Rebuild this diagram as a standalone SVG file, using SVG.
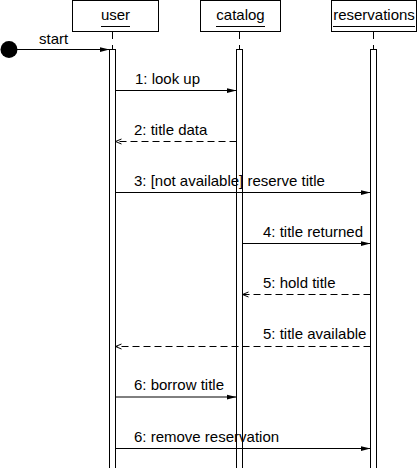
<svg xmlns="http://www.w3.org/2000/svg" width="417" height="468" viewBox="0 0 417 468">
<style>
text{font-family:"Liberation Sans",Arial,sans-serif;font-size:15px;fill:#000}
.box{fill:#fff;stroke:#000;stroke-width:1}
.bar{fill:#fff;stroke:#000;stroke-width:1}
.life{stroke:#000;stroke-width:1;stroke-dasharray:7,6}
.ul{stroke:#000;stroke-width:1}
.call{stroke:#000;stroke-width:1;fill:none;marker-end:url(#filled)}
.ret{stroke:#000;stroke-width:1;fill:none;stroke-dasharray:7,4;marker-end:url(#open)}
</style>
<defs>
<marker id="filled" markerUnits="userSpaceOnUse" markerWidth="12" markerHeight="8" refX="10" refY="3" orient="auto">
<path d="M0,0.5 L10,3 L0,5.5 z" fill="#000"/>
</marker>
<marker id="open" markerUnits="userSpaceOnUse" markerWidth="10" markerHeight="8" refX="7" refY="4" orient="auto">
<path d="M1,1.5 L7,4 L1,6.5" fill="none" stroke="#000" stroke-width="1"/>
</marker>
</defs>
<g id="user">
<rect class="box" x="72.5" y="0.5" width="86" height="31"/>
<text x="115.5" y="20" text-anchor="middle">user</text>
<line class="ul" x1="101" y1="26.5" x2="130" y2="26.5"/>
<line class="life" x1="112.5" y1="32" x2="112.5" y2="49"/>
<rect class="bar" x="109.5" y="49.5" width="6" height="420"/>
</g>
<g id="catalog">
<rect class="box" x="200.5" y="0.5" width="80" height="31"/>
<text x="240.5" y="20" text-anchor="middle">catalog</text>
<line class="ul" x1="216" y1="26.5" x2="265" y2="26.5"/>
<line class="life" x1="239.5" y1="32" x2="239.5" y2="49"/>
<rect class="bar" x="236.5" y="49.5" width="6" height="420"/>
</g>
<g id="reservations">
<rect class="box" x="331.5" y="0.5" width="85" height="31"/>
<text x="374" y="20" text-anchor="middle">reservations</text>
<line class="ul" x1="333" y1="26.5" x2="415" y2="26.5"/>
<line class="life" x1="373.5" y1="32" x2="373.5" y2="49"/>
<rect class="bar" x="370.5" y="49.5" width="6" height="420"/>
</g>
<g id="start">
<circle cx="9" cy="49.5" r="8.5" fill="#000"/>
</g>
<g id="connectors">
<line class="call" x1="17" y1="49.5" x2="109.5" y2="49.5"/>
<text x="39" y="44">start</text>
<line class="call" x1="115.5" y1="90.5" x2="236.5" y2="90.5"/>
<text x="135" y="84">1: look up</text>
<line class="ret" x1="236.5" y1="141.5" x2="115.5" y2="141.5"/>
<text x="134" y="135">2: title data</text>
<line class="call" x1="115.5" y1="192.5" x2="370.5" y2="192.5"/>
<text x="134" y="186">3: [not available] reserve title</text>
<line class="call" x1="242.5" y1="243.5" x2="370.5" y2="243.5"/>
<text x="263" y="237">4: title returned</text>
<line class="ret" x1="370.5" y1="294.5" x2="242.5" y2="294.5"/>
<text x="263" y="288">5: hold title</text>
<line class="ret" x1="370.5" y1="346.5" x2="115.5" y2="346.5"/>
<text x="263" y="339">5: title available</text>
<line class="call" x1="115.5" y1="397" x2="236.5" y2="397"/>
<text x="134" y="390">6: borrow title</text>
<line class="call" x1="115.5" y1="448.5" x2="370.5" y2="448.5"/>
<text x="134" y="442">6: remove reservation</text>
</g>
</svg>
